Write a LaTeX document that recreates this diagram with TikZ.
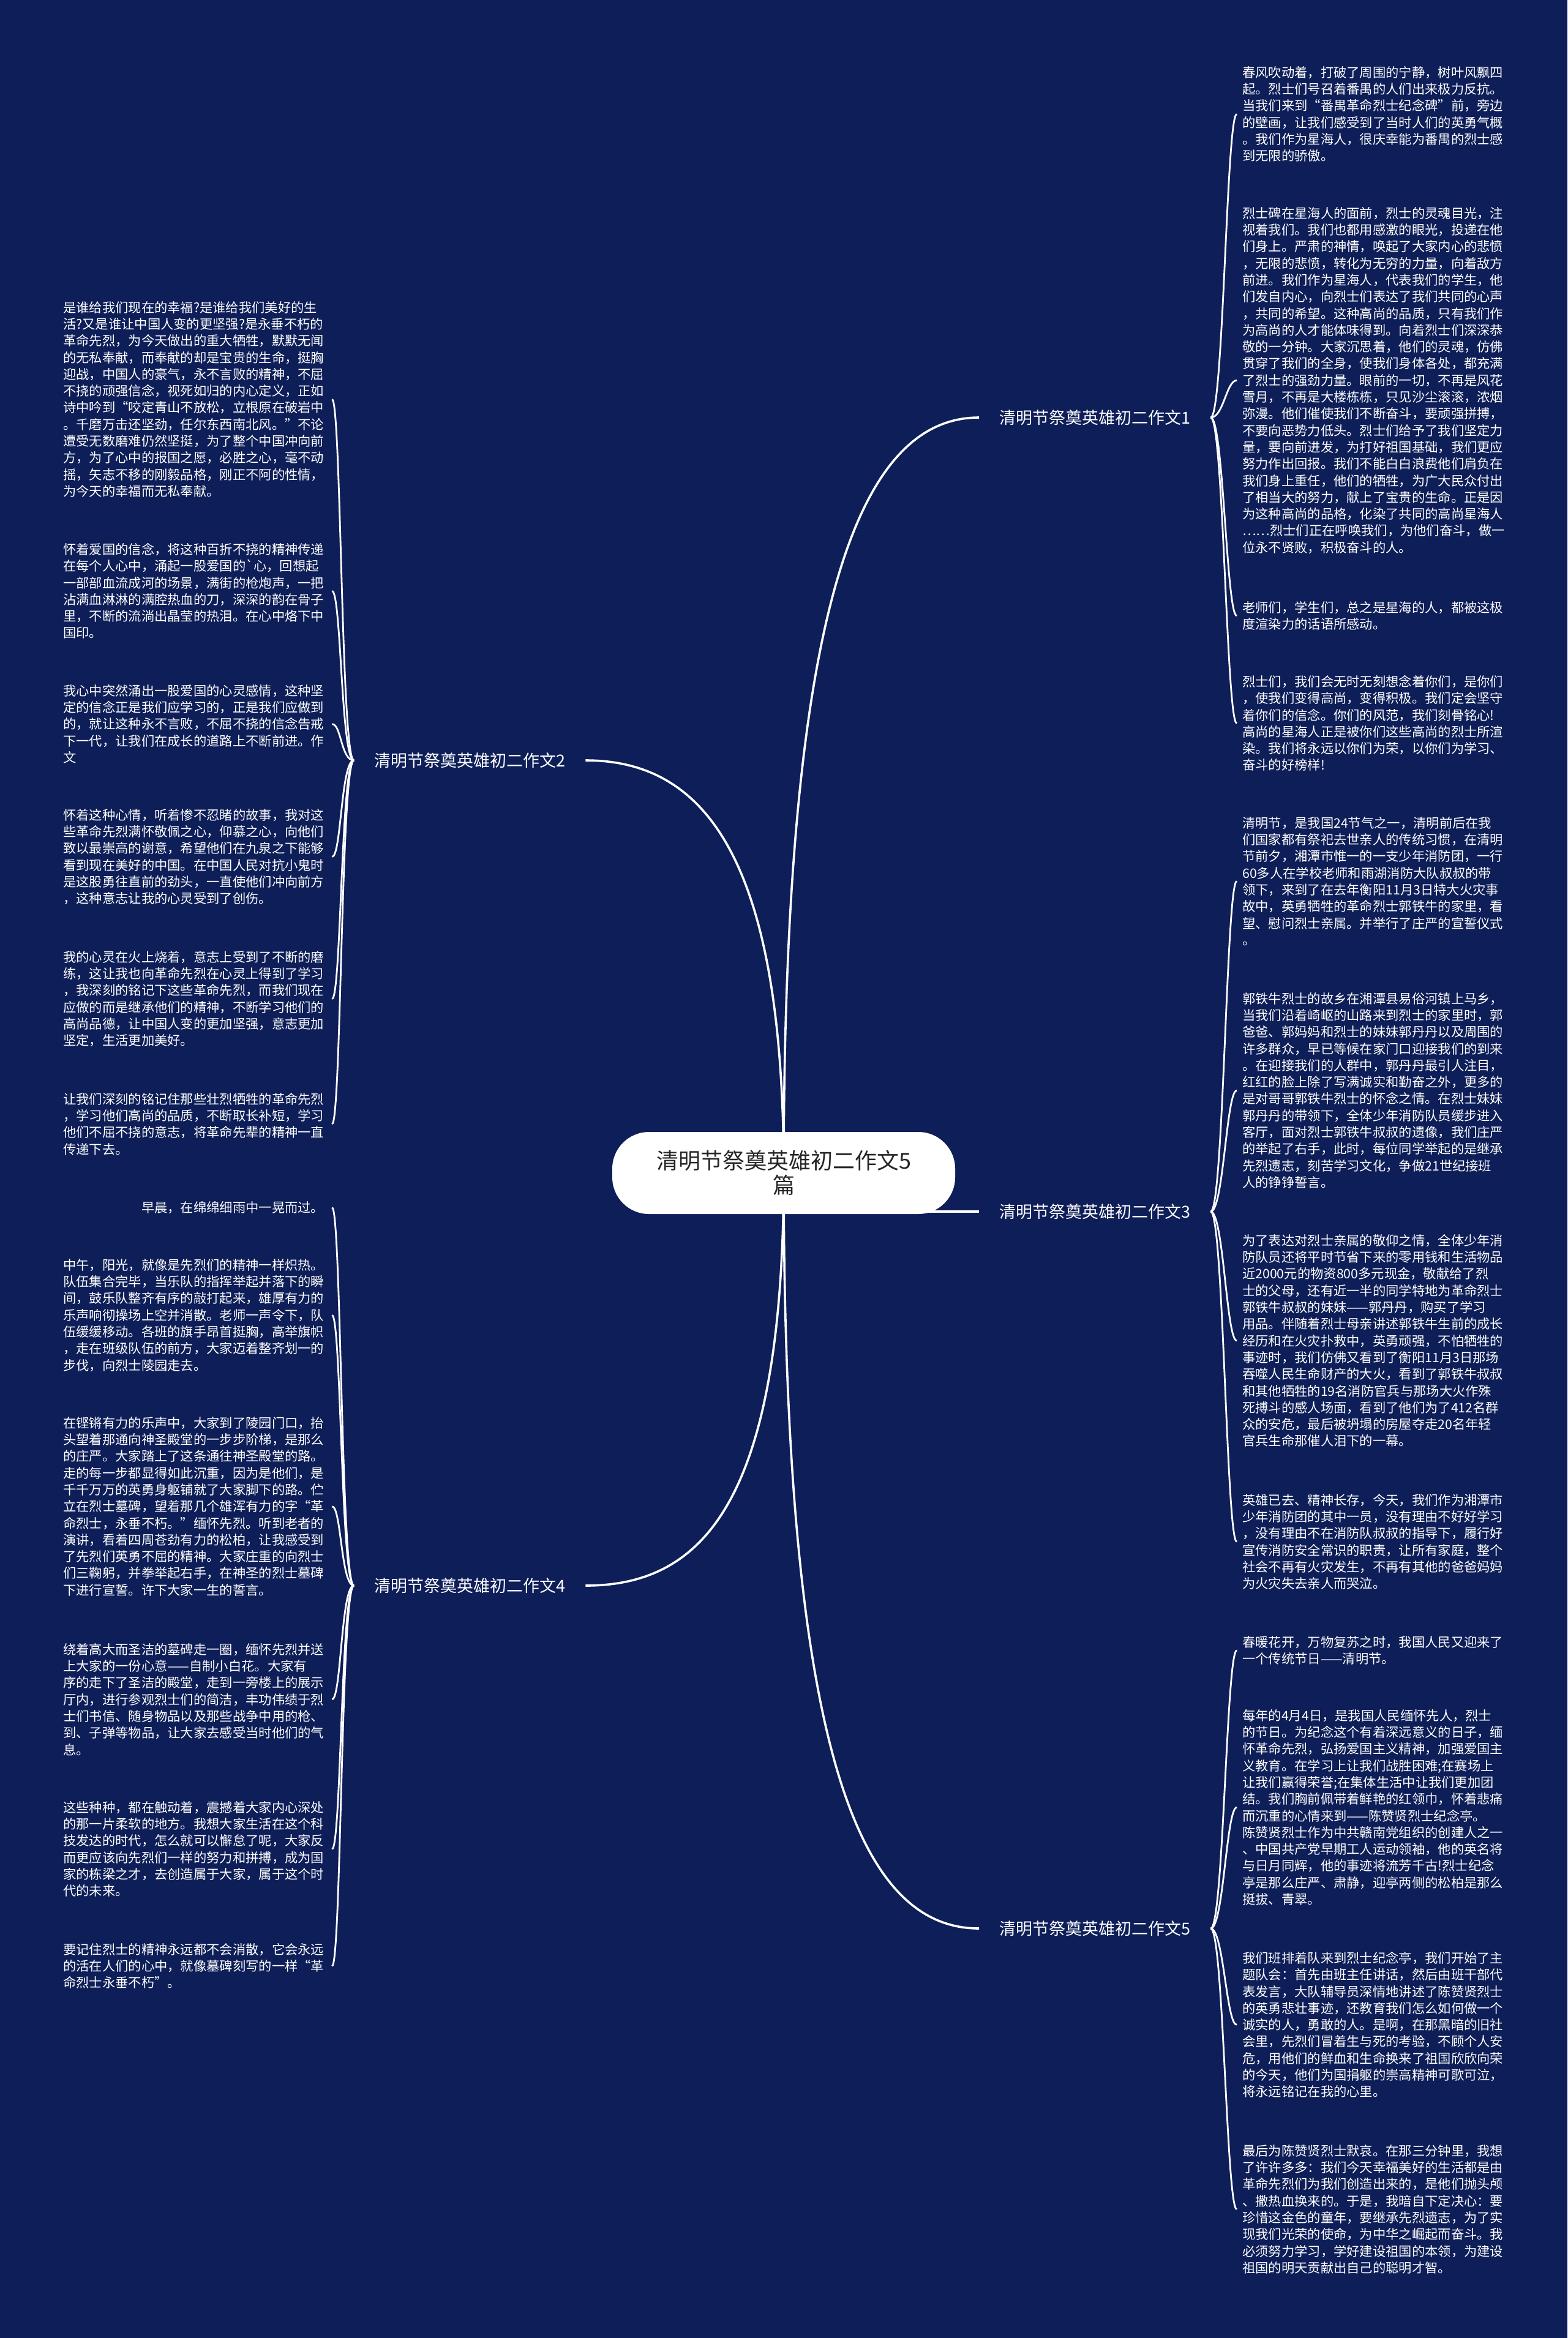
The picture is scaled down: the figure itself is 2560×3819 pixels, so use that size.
\documentclass[tikz,border=0pt]{standalone}
\usepackage{fontspec}
\newfontfamily\hanzi{Noto Sans CJK SC}
\usepackage{tikz}
\pgfdeclarelayer{back}
\pgfdeclarelayer{wires}
\pgfsetlayers{back,wires,main}
\definecolor{navy}{RGB}{13,30,88}
\newcommand{\bodyfont}{\hanzi\fontsize{21.3pt}{27.3pt}\selectfont}
\tikzstyle{root} = [fill=white, rounded corners=60pt, minimum width=560pt, minimum height=134pt, align=center, text=black!85, font={\hanzi\fontsize{36pt}{40pt}\selectfont}]
\tikzstyle{topic} = [text=white, inner xsep=33pt, inner ysep=0pt, font={\hanzi\fontsize{27pt}{32pt}\selectfont}]
\tikzstyle{para} = [text=white, inner xsep=9pt, inner ysep=0pt, text width=430pt, align=left, anchor=north west, font=\bodyfont]
\tikzstyle{trunk} = [draw=white, line width=3.6pt]
\tikzstyle{twig} = [draw=white, line width=2.8pt]

\begin{document}
\begin{tikzpicture}[x=1pt, y=-1pt]
\useasboundingbox (0,0) rectangle (2560,3819);
\begin{pgfonlayer}{back}
\fill[navy] (0,0) rectangle (2560,3819);
\end{pgfonlayer}

\node[root] (c) at (1280,1916) {清明节祭奠英雄初二作文5\\篇};

\node[topic, anchor=west] (b1) at (1599,682) {清明节祭奠英雄初二作文1};
\node[topic, anchor=west] (b2) at (578,1242) {清明节祭奠英雄初二作文2};
\node[topic, anchor=west] (b3) at (1599,1979) {清明节祭奠英雄初二作文3};
\node[topic, anchor=west] (b4) at (578,2590) {清明节祭奠英雄初二作文4};
\node[topic, anchor=west] (b5) at (1599,3150) {清明节祭奠英雄初二作文5};

% 作文1
\node[para] (p1a) at (2020,108) {春风吹动着，打破了周围的宁静，树叶风飘四\\起。烈士们号召着番禺的人们出来极力反抗。\\当我们来到“番禺革命烈士纪念碑”前，旁边\\的壁画，让我们感受到了当时人们的英勇气概\\。我们作为星海人，很庆幸能为番禺的烈士感\\到无限的骄傲。};
\node[para] (p1b) at (2020,338) {烈士碑在星海人的面前，烈士的灵魂目光，注\\视着我们。我们也都用感激的眼光，投递在他\\们身上。严肃的神情，唤起了大家内心的悲愤\\，无限的悲愤，转化为无穷的力量，向着敌方\\前进。我们作为星海人，代表我们的学生，他\\们发自内心，向烈士们表达了我们共同的心声\\，共同的希望。这种高尚的品质，只有我们作\\为高尚的人才能体味得到。向着烈士们深深恭\\敬的一分钟。大家沉思着，他们的灵魂，仿佛\\贯穿了我们的全身，使我们身体各处，都充满\\了烈士的强劲力量。眼前的一切，不再是风花\\雪月，不再是大楼栋栋，只见沙尘滚滚，浓烟\\弥漫。他们催使我们不断奋斗，要顽强拼搏，\\不要向恶势力低头。烈士们给予了我们坚定力\\量，要向前进发，为打好祖国基础，我们更应\\努力作出回报。我们不能白白浪费他们肩负在\\我们身上重任，他们的牺牲，为广大民众付出\\了相当大的努力，献上了宝贵的生命。正是因\\为这种高尚的品格，化染了共同的高尚星海人\\……烈士们正在呼唤我们，为他们奋斗，做一\\位永不贤败，积极奋斗的人。};
\node[para] (p1c) at (2020,982) {老师们，学生们，总之是星海的人，都被这极\\度渲染力的话语所感动。};
\node[para] (p1d) at (2020,1103) {烈士们，我们会无时无刻想念着你们，是你们\\，使我们变得高尚，变得积极。我们定会坚守\\着你们的信念。你们的风范，我们刻骨铭心!\\高尚的星海人正是被你们这些高尚的烈士所渲\\染。我们将永远以你们为荣，以你们为学习、\\奋斗的好榜样!};

% 作文3
\node[para] (p3a) at (2020,1334) {清明节，是我国24节气之一，清明前后在我\\们国家都有祭祀去世亲人的传统习惯，在清明\\节前夕，湘潭市惟一的一支少年消防团，一行\\60多人在学校老师和雨湖消防大队叔叔的带\\领下，来到了在去年衡阳11月3日特大火灾事\\故中，英勇牺牲的革命烈士郭铁牛的家里，看\\望、慰问烈士亲属。并举行了庄严的宣誓仪式\\。};
\node[para] (p3b) at (2020,1621) {郭铁牛烈士的故乡在湘潭县易俗河镇上马乡，\\当我们沿着崎岖的山路来到烈士的家里时，郭\\爸爸、郭妈妈和烈士的妹妹郭丹丹以及周围的\\许多群众，早已等候在家门口迎接我们的到来\\。在迎接我们的人群中，郭丹丹最引人注目，\\红红的脸上除了写满诚实和勤奋之外，更多的\\是对哥哥郭铁牛烈士的怀念之情。在烈士妹妹\\郭丹丹的带领下，全体少年消防队员缓步进入\\客厅，面对烈士郭铁牛叔叔的遗像，我们庄严\\的举起了右手，此时，每位同学举起的是继承\\先烈遗志，刻苦学习文化，争做21世纪接班\\人的铮铮誓言。};
\node[para] (p3c) at (2020,2016) {为了表达对烈士亲属的敬仰之情，全体少年消\\防队员还将平时节省下来的零用钱和生活物品\\近2000元的物资800多元现金，敬献给了烈\\士的父母，还有近一半的同学特地为革命烈士\\郭铁牛叔叔的妹妹——郭丹丹，购买了学习\\用品。伴随着烈士母亲讲述郭铁牛生前的成长\\经历和在火灾扑救中，英勇顽强，不怕牺牲的\\事迹时，我们仿佛又看到了衡阳11月3日那场\\吞噬人民生命财产的大火，看到了郭铁牛叔叔\\和其他牺牲的19名消防官兵与那场大火作殊\\死搏斗的感人场面，看到了他们为了412名群\\众的安危，最后被坍塌的房屋夺走20名年轻\\官兵生命那催人泪下的一幕。};
\node[para] (p3d) at (2020,2440) {英雄已去、精神长存，今天，我们作为湘潭市\\少年消防团的其中一员，没有理由不好好学习\\，没有理由不在消防队叔叔的指导下，履行好\\宣传消防安全常识的职责，让所有家庭，整个\\社会不再有火灾发生，不再有其他的爸爸妈妈\\为火灾失去亲人而哭泣。};

% 作文5
\node[para] (p5a) at (2020,2672) {春暖花开，万物复苏之时，我国人民又迎来了\\一个传统节日——清明节。};
\node[para] (p5b) at (2020,2792) {每年的4月4日，是我国人民缅怀先人，烈士\\的节日。为纪念这个有着深远意义的日子，缅\\怀革命先烈，弘扬爱国主义精神，加强爱国主\\义教育。在学习上让我们战胜困难;在赛场上\\让我们赢得荣誉;在集体生活中让我们更加团\\结。我们胸前佩带着鲜艳的红领巾，怀着悲痛\\而沉重的心情来到——陈赞贤烈士纪念亭。\\陈赞贤烈士作为中共赣南党组织的创建人之一\\、中国共产党早期工人运动领袖，他的英名将\\与日月同辉，他的事迹将流芳千古!烈士纪念\\亭是那么庄严、肃静，迎亭两侧的松柏是那么\\挺拔、青翠。};
\node[para] (p5c) at (2020,3188) {我们班排着队来到烈士纪念亭，我们开始了主\\题队会：首先由班主任讲话，然后由班干部代\\表发言，大队辅导员深情地讲述了陈赞贤烈士\\的英勇悲壮事迹，还教育我们怎么如何做一个\\诚实的人，勇敢的人。是啊，在那黑暗的旧社\\会里，先烈们冒着生与死的考验，不顾个人安\\危，用他们的鲜血和生命换来了祖国欣欣向荣\\的今天，他们为国捐躯的崇高精神可歌可泣，\\将永远铭记在我的心里。};
\node[para] (p5d) at (2020,3503) {最后为陈赞贤烈士默哀。在那三分钟里，我想\\了许许多多：我们今天幸福美好的生活都是由\\革命先烈们为我们创造出来的，是他们抛头颅\\、撒热血换来的。于是，我暗自下定决心：要\\珍惜这金色的童年，要继承先烈遗志，为了实\\现我们光荣的使命，为中华之崛起而奋斗。我\\必须努力学习，学好建设祖国的本领，为建设\\祖国的明天贡献出自己的聪明才智。};

% 作文2
\node[para] (p2a) at (94,492) {是谁给我们现在的幸福?是谁给我们美好的生\\活?又是谁让中国人变的更坚强?是永垂不朽的\\革命先烈，为今天做出的重大牺牲，默默无闻\\的无私奉献，而奉献的却是宝贵的生命，挺胸\\迎战，中国人的豪气，永不言败的精神，不屈\\不挠的顽强信念，视死如归的内心定义，正如\\诗中吟到“咬定青山不放松，立根原在破岩中\\。千磨万击还坚劲，任尔东西南北风。”不论\\遭受无数磨难仍然坚挺，为了整个中国冲向前\\方，为了心中的报国之愿，必胜之心，毫不动\\摇，矢志不移的刚毅品格，刚正不阿的性情，\\为今天的幸福而无私奉献。};
\node[para] (p2b) at (94,887) {怀着爱国的信念，将这种百折不挠的精神传递\\在每个人心中，涌起一股爱国的\textasciigrave 心，回想起\\一部部血流成河的场景，满街的枪炮声，一把\\沾满血淋淋的满腔热血的刀，深深的韵在骨子\\里，不断的流淌出晶莹的热泪。在心中烙下中\\国印。};
\node[para] (p2c) at (94,1118) {我心中突然涌出一股爱国的心灵感情，这种坚\\定的信念正是我们应学习的，正是我们应做到\\的，就让这种永不言败，不屈不挠的信念告戒\\下一代，让我们在成长的道路上不断前进。作\\文};
\node[para] (p2d) at (94,1321) {怀着这种心情，听着惨不忍睹的故事，我对这\\些革命先烈满怀敬佩之心，仰慕之心，向他们\\致以最崇高的谢意，希望他们在九泉之下能够\\看到现在美好的中国。在中国人民对抗小鬼时\\是这股勇往直前的劲头，一直使他们冲向前方\\，这种意志让我的心灵受到了创伤。};
\node[para] (p2e) at (94,1553) {我的心灵在火上烧着，意志上受到了不断的磨\\练，这让我也向革命先烈在心灵上得到了学习\\，我深刻的铭记下这些革命先烈，而我们现在\\应做的而是继承他们的精神，不断学习他们的\\高尚品德，让中国人变的更加坚强，意志更加\\坚定，生活更加美好。};
\node[para] (p2f) at (94,1785) {让我们深刻的铭记住那些壮烈牺牲的革命先烈\\，学习他们高尚的品质，不断取长补短，学习\\他们不屈不挠的意志，将革命先辈的精神一直\\传递下去。};

% 作文4
\node[para] (p4a) at (94,1962) {　　　　　　早晨，在绵绵细雨中一晃而过。};
\node[para] (p4b) at (94,2056) {中午，阳光，就像是先烈们的精神一样炽热。\\队伍集合完毕，当乐队的指挥举起并落下的瞬\\间，鼓乐队整齐有序的敲打起来，雄厚有力的\\乐声响彻操场上空并消散。老师一声令下，队\\伍缓缓移动。各班的旗手昂首挺胸，高举旗帜\\，走在班级队伍的前方，大家迈着整齐划一的\\步伐，向烈士陵园走去。};
\node[para] (p4c) at (94,2314) {在铿锵有力的乐声中，大家到了陵园门口，抬\\头望着那通向神圣殿堂的一步步阶梯，是那么\\的庄严。大家踏上了这条通往神圣殿堂的路。\\走的每一步都显得如此沉重，因为是他们，是\\千千万万的英勇身躯铺就了大家脚下的路。伫\\立在烈士墓碑，望着那几个雄浑有力的字“革\\命烈士，永垂不朽。”缅怀先烈。听到老者的\\演讲，看着四周苍劲有力的松柏，让我感受到\\了先烈们英勇不屈的精神。大家庄重的向烈士\\们三鞠躬，并拳举起右手，在神圣的烈士墓碑\\下进行宣誓。许下大家一生的誓言。};
\node[para] (p4d) at (94,2684) {绕着高大而圣洁的墓碑走一圈，缅怀先烈并送\\上大家的一份心意——自制小白花。大家有\\序的走下了圣洁的殿堂，走到一旁楼上的展示\\厅内，进行参观烈士们的简洁，丰功伟绩于烈\\士们书信、随身物品以及那些战争中用的枪、\\到、子弹等物品，让大家去感受当时他们的气\\息。};
\node[para] (p4e) at (94,2942) {这些种种，都在触动着，震撼着大家内心深处\\的那一片柔软的地方。我想大家生活在这个科\\技发达的时代，怎么就可以懈怠了呢，大家反\\而更应该向先烈们一样的努力和拼搏，成为国\\家的栋梁之才，去创造属于大家，属于这个时\\代的未来。};
\node[para] (p4f) at (94,3174) {要记住烈士的精神永远都不会消散，它会永远\\的活在人们的心中，就像墓碑刻写的一样“革\\命烈士永垂不朽”。};

\begin{pgfonlayer}{wires}
\draw[trunk] (c.center) .. controls (1280,1000) and (1400,682) .. (b1.west);
\draw[trunk] (c.center) .. controls (1280,1400) and (1150,1242) .. (b2.east);
\draw[trunk] (c.center |- b3.west) -- (b3.west);
\draw[trunk] (c.center) .. controls (1280,2450) and (1150,2590) .. (b4.east);
\draw[trunk] (c.center) .. controls (1280,2850) and (1400,3150) .. (b5.west);

\draw[twig] (b1.east) .. controls +(21,0) and +(-17,0) .. (p1a.west);
\draw[twig] (b1.east) .. controls +(21,0) and +(-17,0) .. (p1b.west);
\draw[twig] (b1.east) .. controls +(21,0) and +(-17,0) .. (p1c.west);
\draw[twig] (b1.east) .. controls +(21,0) and +(-17,0) .. (p1d.west);

\draw[twig] (b3.east) .. controls +(21,0) and +(-17,0) .. (p3a.west);
\draw[twig] (b3.east) .. controls +(21,0) and +(-17,0) .. (p3b.west);
\draw[twig] (b3.east) .. controls +(21,0) and +(-17,0) .. (p3c.west);
\draw[twig] (b3.east) .. controls +(21,0) and +(-17,0) .. (p3d.west);

\draw[twig] (b5.east) .. controls +(21,0) and +(-17,0) .. (p5a.west);
\draw[twig] (b5.east) .. controls +(21,0) and +(-17,0) .. (p5b.west);
\draw[twig] (b5.east) .. controls +(21,0) and +(-17,0) .. (p5c.west);
\draw[twig] (b5.east) .. controls +(21,0) and +(-17,0) .. (p5d.west);

\draw[twig] (b2.west) .. controls +(-21,0) and +(15,0) .. (p2a.east);
\draw[twig] (b2.west) .. controls +(-21,0) and +(15,0) .. (p2b.east);
\draw[twig] (b2.west) .. controls +(-21,0) and +(15,0) .. (p2c.east);
\draw[twig] (b2.west) .. controls +(-21,0) and +(15,0) .. (p2d.east);
\draw[twig] (b2.west) .. controls +(-21,0) and +(15,0) .. (p2e.east);
\draw[twig] (b2.west) .. controls +(-21,0) and +(15,0) .. (p2f.east);

\draw[twig] (b4.west) .. controls +(-21,0) and +(15,0) .. (p4a.east);
\draw[twig] (b4.west) .. controls +(-21,0) and +(15,0) .. (p4b.east);
\draw[twig] (b4.west) .. controls +(-21,0) and +(15,0) .. (p4c.east);
\draw[twig] (b4.west) .. controls +(-21,0) and +(15,0) .. (p4d.east);
\draw[twig] (b4.west) .. controls +(-21,0) and +(15,0) .. (p4e.east);
\draw[twig] (b4.west) .. controls +(-21,0) and +(15,0) .. (p4f.east);
\end{pgfonlayer}
\end{tikzpicture}
\end{document}
